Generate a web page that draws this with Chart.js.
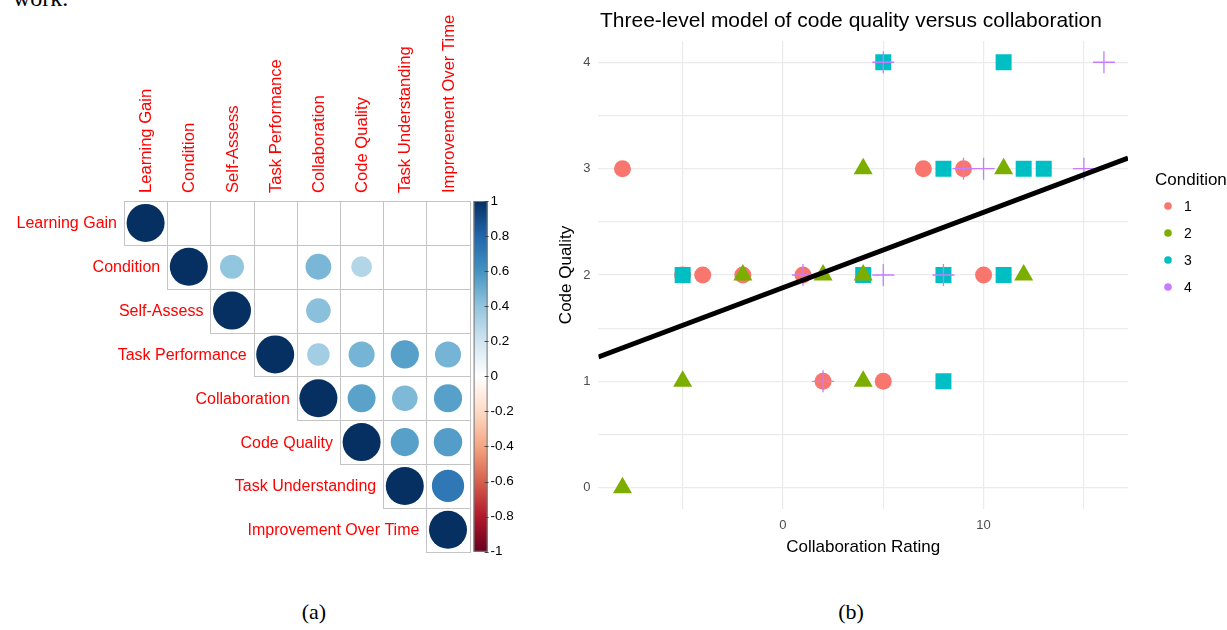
<!DOCTYPE html>
<html>
<head>
<meta charset="utf-8">
<script src="https://cdn.jsdelivr.net/npm/chart.js@4.4.1/dist/chart.umd.min.js"></script>
<style>
  html, body { margin: 0; padding: 0; background: #fff; }
  body { width: 1227px; height: 630px; position: relative; overflow: hidden; font-family: "Liberation Sans", Arial, sans-serif; }
  #wrapA { position: absolute; left: 0; top: 0; width: 540px; height: 590px; }
  #wrapB { position: absolute; left: 540px; top: 0; width: 687px; height: 590px; }
  #title { position: absolute; left: 600px; top: 8px; font-size: 21px; line-height: 24px; color: #000; white-space: nowrap; }
  .cap { position: absolute; top: 599px; width: 60px; text-align: center; font-family: "Liberation Serif", "Times New Roman", serif; font-size: 22px; line-height: 26px; }
  #work { position: absolute; left: 13px; top: -14px; font-family: "Liberation Serif", "Times New Roman", serif; font-size: 24px; line-height: 24px; }
</style>
</head>
<body>
<div id="work">work.</div>
<div id="wrapA"><canvas id="corr" width="540" height="590"></canvas></div>
<div id="wrapB"><canvas id="scatter" width="687" height="590"></canvas></div>
<div id="title">Three-level model of code quality versus collaboration</div>
<div class="cap" style="left:284px">(a)</div>
<div class="cap" style="left:821px">(b)</div>

<script>
// ---- panel (a): correlation matrix, upper triangle (null = blank cell)
const corrVars = ["Learning Gain", "Condition", "Self-Assess", "Task Performance",
  "Collaboration", "Code Quality", "Task Understanding", "Improvement Over Time"];
const rowLearningGain      = [1, null, null, null, null, null, null, null];
const rowCondition         = [null, 1, 0.40, null, 0.46, 0.30, null, null];
const rowSelfAssess        = [null, null, 1, null, 0.42, null, null, null];
const rowTaskPerformance   = [null, null, null, 1, 0.35, 0.47, 0.55, 0.47];
const rowCollaboration     = [null, null, null, null, 1, 0.54, 0.45, 0.55];
const rowCodeQuality       = [null, null, null, null, null, 1, 0.55, 0.56];
const rowTaskUnderstanding = [null, null, null, null, null, null, 1, 0.72];
const rowImprovement       = [null, null, null, null, null, null, null, 1];
const cbTickValues = [1, 0.8, 0.6, 0.4, 0.2, 0, -0.2, -0.4, -0.6, -0.8, -1];
const cbTickLabels = ["1", "0.8", "0.6", "0.4", "0.2", "0", "-0.2", "-0.4", "-0.6", "-0.8", "-1"];

// ---- panel (b): code quality vs collaboration rating, by condition
const cond1X = [-8, 7, 9, -5, -4, -2, 1, 10, 2, 5];
const cond1Y = [3, 3, 3, 2, 2, 2, 2, 2, 1, 1];
const cond2X = [4, 11, -2, 2, 4, 12, -5, 4, -8];
const cond2Y = [3, 3, 2, 2, 2, 2, 1, 1, 0];
const cond3X = [5, 11, 8, 12, 13, -5, 4, 8, 11, 8];
const cond3Y = [4, 4, 3, 3, 3, 2, 2, 2, 2, 1];
const cond4X = [5, 16, 9, 10, 15, 1, 5, 8, 2];
const cond4Y = [4, 4, 3, 3, 3, 2, 2, 2, 1];
const fitX = [-9.2, 17.2];
const fitY = [1.23, 3.10];
const xTickValues = [-5, 0, 5, 10, 15];
const xTickLabels = ["", "0", "", "10", ""];
const yTickValues = [0, 0.5, 1, 1.5, 2, 2.5, 3, 3.5, 4];
const yTickLabels = ["0", "", "1", "", "2", "", "3", "", "4"];
const condLabels = ["1", "2", "3", "4"];
const condColors = ["#F8766D", "#7CAE00", "#00BFC4", "#C77CFF"];

Chart.defaults.font.family = '"Liberation Sans", Arial, sans-serif';
Chart.defaults.animation = false;

// RdBu palette used by corrplot, from -1 to 1
const rdbu = ["#67001F", "#B2182B", "#D6604D", "#F4A582", "#FDDBC7", "#FFFFFF",
  "#D1E5F0", "#92C5DE", "#4393C3", "#2166AC", "#053061"];

function hexRgb(h) {
  return [parseInt(h.slice(1, 3), 16), parseInt(h.slice(3, 5), 16), parseInt(h.slice(5, 7), 16)];
}
function colorFor(v) {
  const t = (v + 1) / 2 * 10;
  const i = Math.min(9, Math.floor(t));
  const f = t - i;
  const a = hexRgb(rdbu[i]), b = hexRgb(rdbu[i + 1]);
  const c = a.map((x, k) => Math.round(x + (b[k] - x) * f));
  return `rgb(${c[0]},${c[1]},${c[2]})`;
}

const corrRows = [rowLearningGain, rowCondition, rowSelfAssess, rowTaskPerformance,
  rowCollaboration, rowCodeQuality, rowTaskUnderstanding, rowImprovement];
const corrPoints = [];
corrRows.forEach((row, i) => {
  row.forEach((v, j) => {
    if (v !== null) corrPoints.push({ x: j, y: i, v: v });
  });
});

function circleRadius(c) {
  const area = c.chart.chartArea;
  const cell = area ? (area.right - area.left) / corrVars.length : 43;
  return Math.sqrt(Math.abs(c.raw.v)) * 0.44 * cell;
}

const corrDecor = {
  id: "corrDecor",
  beforeDatasetsDraw(chart) {
    const { ctx, scales: { x, y } } = chart;
    ctx.save();
    ctx.strokeStyle = "#C4C4C4";
    ctx.lineWidth = 1;
    for (let i = 0; i < corrVars.length; i++) {
      for (let j = i; j < corrVars.length; j++) {
        const x0 = Math.round(x.getPixelForValue(j - 0.5)) + 0.5;
        const x1 = Math.round(x.getPixelForValue(j + 0.5)) + 0.5;
        const y0 = Math.round(y.getPixelForValue(i - 0.5)) + 0.5;
        const y1 = Math.round(y.getPixelForValue(i + 0.5)) + 0.5;
        ctx.strokeRect(x0, y0, x1 - x0, y1 - y0);
      }
    }
    ctx.restore();
  },
  afterDraw(chart) {
    const { ctx, scales: { x, y, cb } } = chart;
    ctx.save();
    ctx.fillStyle = "#FF0000";
    ctx.textBaseline = "middle";
    // row labels beside the diagonal
    ctx.font = '16px "Liberation Sans", Arial, sans-serif';
    ctx.textAlign = "right";
    corrVars.forEach((name, i) => {
      ctx.fillText(name, x.getPixelForValue(i - 0.5) - 7, y.getPixelForValue(i) + 1);
    });
    // column labels on top
    ctx.font = '16.6px "Liberation Sans", Arial, sans-serif';
    ctx.textAlign = "left";
    corrVars.forEach((name, j) => {
      ctx.save();
      ctx.translate(x.getPixelForValue(j) + 1, y.getPixelForValue(-0.5) - 8);
      ctx.rotate(-Math.PI / 2);
      ctx.fillText(name, 0, 0);
      ctx.restore();
    });
    // colour bar
    const top = cb.getPixelForValue(1), bot = cb.getPixelForValue(-1);
    const bx = chart.chartArea.right + 4, bw = 14;
    const g = ctx.createLinearGradient(0, top, 0, bot);
    rdbu.slice().reverse().forEach((c, k) => g.addColorStop(k / 10, c));
    ctx.fillStyle = g;
    ctx.fillRect(bx, top, bw, bot - top);
    ctx.strokeStyle = "#777";
    ctx.lineWidth = 1;
    ctx.strokeRect(bx + 0.5, top + 0.5, bw - 1, bot - top - 1);
    ctx.strokeStyle = "#444";
    cbTickValues.forEach(v => {
      const py = Math.round(cb.getPixelForValue(v)) + 0.5;
      ctx.beginPath();
      ctx.moveTo(bx + bw - 3, py);
      ctx.lineTo(bx + bw + 1, py);
      ctx.stroke();
    });
    ctx.restore();
  }
};

new Chart(document.getElementById("corr"), {
  type: "scatter",
  data: {
    datasets: [{
      data: corrPoints,
      backgroundColor: c => colorFor(c.raw.v),
      borderWidth: 0,
      pointRadius: circleRadius,
      pointHoverRadius: circleRadius
    }]
  },
  options: {
    responsive: false,
    events: [],
    layout: { padding: { left: 124, top: 201, right: 20.4, bottom: 38.3 } },
    plugins: { legend: { display: false }, tooltip: { enabled: false } },
    scales: {
      x: { type: "linear", min: -0.5, max: 7.5, display: false },
      y: { type: "linear", min: -0.5, max: 7.5, reverse: true, display: false },
      cb: {
        type: "linear", axis: "y", position: "right", min: -1, max: 1,
        grid: { display: false, drawTicks: false },
        border: { display: false },
        afterBuildTicks: s => { s.ticks = cbTickValues.map(v => ({ value: v })); },
        afterFit: s => { s.width = 50; },
        ticks: {
          padding: 21, color: "#000", font: { size: 13.5 },
          callback: (v, i) => cbTickLabels[i]
        }
      }
    }
  },
  plugins: [corrDecor]
});

// ---- panel (b)
function pts(xs, ys) { return xs.map((v, i) => ({ x: v, y: ys[i] })); }

const condLegend = {
  id: "condLegend",
  afterDraw(chart) {
    const ctx = chart.ctx;
    ctx.save();
    ctx.fillStyle = "#000";
    ctx.textAlign = "left";
    ctx.textBaseline = "middle";
    ctx.font = '17px "Liberation Sans", Arial, sans-serif';
    ctx.fillText("Condition", 615, 180);
    ctx.font = '14px "Liberation Sans", Arial, sans-serif';
    condLabels.forEach((lab, k) => {
      const yy = 206 + k * 27;
      ctx.fillStyle = condColors[k];
      ctx.beginPath();
      ctx.arc(628, yy, 3.8, 0, Math.PI * 2);
      ctx.fill();
      ctx.fillStyle = "#000";
      ctx.fillText(lab, 644, yy + 1);
    });
    ctx.restore();
  }
};

new Chart(document.getElementById("scatter"), {
  type: "scatter",
  data: {
    datasets: [
      { data: pts(fitX, fitY), showLine: true, borderColor: "#000", borderWidth: 5,
        pointRadius: 0, order: 0 },
      { label: condLabels[3], data: pts(cond4X, cond4Y), pointStyle: "cross", pointRadius: 11,
        borderColor: condColors[3], borderWidth: 1.3, order: 1 },
      { label: condLabels[1], data: pts(cond2X, cond2Y), pointStyle: "triangle", pointRadius: 11,
        backgroundColor: condColors[1], borderWidth: 0, order: 2 },
      { label: condLabels[2], data: pts(cond3X, cond3Y), pointStyle: "rect", pointRadius: 11.3,
        backgroundColor: condColors[2], borderWidth: 0, order: 3 },
      { label: condLabels[0], data: pts(cond1X, cond1Y), pointStyle: "circle", pointRadius: 8.5,
        backgroundColor: condColors[0], borderWidth: 0, order: 4 }
    ]
  },
  options: {
    responsive: false,
    events: [],
    layout: { padding: { left: 12, top: 41, right: 99, bottom: 28 } },
    plugins: { legend: { display: false }, tooltip: { enabled: false } },
    scales: {
      x: {
        type: "linear", min: -9.2, max: 17.2,
        grid: { color: "#EBEBEB", lineWidth: 1.2, drawTicks: false },
        border: { display: false },
        afterBuildTicks: s => { s.ticks = xTickValues.map(v => ({ value: v })); },
        afterFit: s => { s.height = 53; },
        ticks: { padding: 9, color: "#4D4D4D", font: { size: 13 }, maxRotation: 0, autoSkip: false,
          callback: (v, i) => xTickLabels[i] },
        title: { display: true, text: "Collaboration Rating", color: "#000", font: { size: 17 } }
      },
      y: {
        type: "linear", min: -0.2, max: 4.2,
        grid: { color: "#EBEBEB", lineWidth: 1.2, drawTicks: false },
        border: { display: false },
        afterBuildTicks: s => { s.ticks = yTickValues.map(v => ({ value: v })); },
        afterFit: s => { s.width = 46.4; },
        ticks: { padding: 8, color: "#4D4D4D", font: { size: 13 }, autoSkip: false,
          callback: (v, i) => yTickLabels[i] },
        title: { display: true, text: "Code Quality", color: "#000", font: { size: 17 } }
      }
    }
  },
  plugins: [condLegend]
});
</script>
</body>
</html>
